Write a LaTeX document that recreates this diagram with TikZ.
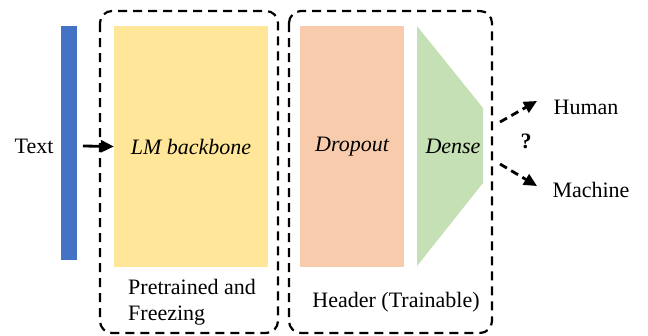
\documentclass[tikz,border=0pt]{standalone}
\usepackage{fontspec}
\setmainfont{Liberation Serif}
\usetikzlibrary{arrows.meta}
\begin{document}
\begin{tikzpicture}[x=1pt,y=-1pt,
  lbl/.style={font=\fontsize{22}{26}\selectfont, inner sep=0pt},
  grp/.style={draw=black, line width=2.2pt, dash pattern=on 9pt off 6pt, rounded corners=12pt},
  arr/.style={-{Triangle[length=13pt,width=12pt]}, line width=2.8pt},
  darr/.style={arr, dash pattern=on 8pt off 5pt}]
\useasboundingbox (0,0) rectangle (648,335);
\definecolor{cblue}{RGB}{68,114,196}
\definecolor{cyellow}{RGB}{255,230,153}
\definecolor{corange}{RGB}{248,203,173}
\definecolor{cgreen}{RGB}{197,224,180}
% groups
\draw[grp] (100,11) rectangle (278,333);
\draw[grp] (289,11) rectangle (492,333);
% blocks
\fill[cblue] (61,26) rectangle (77,260);
\node[fill=cyellow, minimum width=154pt, minimum height=241pt, inner sep=0pt] (lm) at (191,146.5) {};
\node[fill=corange, minimum width=104pt, minimum height=241pt, inner sep=0pt] (drop) at (352,146.5) {};
\fill[cgreen] (417,26) -- (483,108) -- (483,183) -- (417,266) -- cycle;
% labels
\node[lbl] (text) at (34,146) {Text};
\node[lbl, font=\fontsize{22}{26}\selectfont\itshape] at (191,147) {LM backbone};
\node[lbl, font=\fontsize{22}{26}\selectfont\itshape] at (352,147) {Dropout};
\node[lbl, font=\fontsize{22}{26}\selectfont\itshape] at (453,146) {Dense};
\node[lbl] (human) at (586,107) {Human};
\node[lbl] (machine) at (591,190) {Machine};
\node[lbl, font=\fontsize{22}{26}\selectfont\bfseries] at (526,141) {?};
\node[lbl, anchor=north west, align=left, font=\fontsize{22}{26}\selectfont] at (128,279) {Pretrained and\\Freezing};
\node[lbl] at (396,302) {Header (Trainable)};
% connectors
\coordinate (a0) at (83,146);
\draw[arr] (a0) -- (lm.west);
\coordinate (o1) at (500,122);
\coordinate (o2) at (500,164);
\coordinate (h1) at (537,101);
\coordinate (m1) at (537,186);
\draw[darr] (o1) -- (h1);
\draw[darr] (o2) -- (m1);
\end{tikzpicture}
\end{document}
